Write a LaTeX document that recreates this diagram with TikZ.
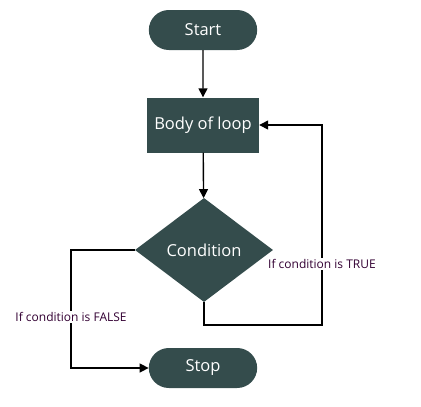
\documentclass[tikz,border=0pt]{standalone}
\usepackage{fontspec}
\setmainfont{Open Sans}
\usetikzlibrary{shapes.geometric,shapes.misc,arrows.meta}
\definecolor{boxfill}{HTML}{344C4C}
\definecolor{lblcol}{HTML}{330033}
\tikzset{
  term/.style={draw=none,fill=boxfill,rounded rectangle,minimum width=115pt,minimum height=40pt,text=white,font=\fontsize{16.5}{19}\selectfont},
  proc/.style={draw=none,fill=boxfill,rectangle,minimum width=112pt,minimum height=55pt,text=white,font=\fontsize{16.5}{19}\selectfont},
  cond/.style={draw=none,fill=boxfill,diamond,minimum width=138pt,minimum height=104pt,inner sep=0pt,text=white,font=\fontsize{16.5}{19}\selectfont},
  conn/.style={line width=1.4pt,-{Triangle[length=9pt,width=9pt]}},
  lbl/.style={fill=white,text=lblcol,inner sep=1pt,font=\fontsize{12}{14}\selectfont}
}
\begin{document}
\begin{tikzpicture}[x=1pt,y=-1pt]
\useasboundingbox (0,0) rectangle (421,407);
\node[term] (start) at (203,30) {Start};
\node[proc] (body) at (203,125) {Body of loop};
\node[cond] (cond) at (204,250) {Condition};
\node[term] (stop) at (203,368) {Stop};
\coordinate (b1) at (204,325);
\coordinate (b2) at (322,325);
\coordinate (b3) at (322,125);
\coordinate (f1) at (71,250);
\coordinate (f2) at (71,368);
\draw[conn] (start) -- (body);
\draw[conn] (body) -- (cond);
\draw[conn] (cond.south) -- (b1) -- (b2) -- (b3) -- (body.east);
\draw[conn] (cond.west) -- (f1) -- (f2) -- (stop.west);
\node[lbl] (tl) at (322,264) {If condition is TRUE};
\node[lbl] (fl) at (71,317) {If condition is FALSE};
\end{tikzpicture}
\end{document}
